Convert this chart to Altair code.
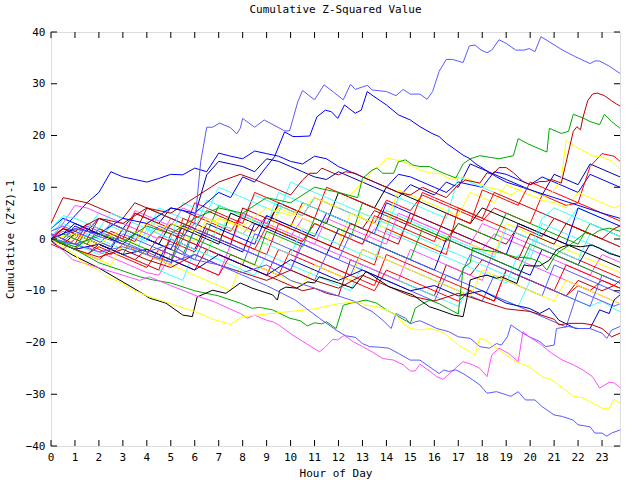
import altair as alt
import pandas as pd

# ---------------- axis / tick data ----------------
X_TICKS = list(range(24))
X_LABELS = [str(h) for h in X_TICKS]
Y_TICKS = [-40, -30, -20, -10, 0, 10, 20, 30, 40]
HOURS_HALF = [i * 0.5 for i in range(48)] + [23.75]

COLORS = {
    "lightblue": "#5a5aff", "blue": "#0000ff", "navy": "#0000b4",
    "red": "#ff0000", "darkred": "#b40000", "green": "#00a800",
    "yellow": "#ffff00", "cyan": "#40ffff", "magenta": "#ff50ff",
    "black": "#000000",
}

# ---------------- traced (detailed) series ----------------
LB_TOP_H = [0, 0.5, 1, 1.5, 2, 2.5, 3, 3.5, 4, 4.5, 5, 5.5, 6.0, 6.25, 6.5, 6.75, 7.04, 7.5, 7.75, 7.9,
            8.0, 8.5, 8.9, 9.75, 9.96, 10.3, 10.5, 11.0, 11.4, 12.2, 12.5, 12.7, 13.2, 13.4, 14.0, 14.4, 14.7,
            15.0, 15.4, 15.7, 15.93, 16.2, 16.5, 16.76, 17.2, 17.46, 17.7, 17.95, 18.2, 18.4, 18.7, 19.0, 19.4,
            19.75, 19.96, 20.2, 20.45, 20.8, 21.35, 21.9, 22.5, 22.7, 22.9, 23.3, 23.75]
LB_TOP_V = [1, 0, 2, 1.5, 0.5, 3, 2, 1, 0, 2.5, 1.5, 0.5, 3, 15, 21.6, 21.6, 22.4, 21.5, 20.3, 21.4,
            23.3, 21.6, 23.0, 20.9, 20.9, 26.5, 28.7, 26.9, 29.8, 26.9, 29.9, 28.9, 29.7, 28.8, 28.5, 27.7, 28.9,
            28.0, 28.0, 27.0, 28.5, 32.4, 34.7, 34.7, 34.1, 37.3, 37.5, 36.5, 36.0, 36.5, 38.5, 37.8, 36.5,
            36.5, 36.8, 36.2, 39.1, 38.1, 36.5, 35.2, 33.9, 34.4, 34.4, 33.4, 32.0]

DB_PEAK_H = [0, 1, 2, 3, 4, 5, 6, 7, 7.5, 8, 8.5, 9, 9.33, 9.75, 10.1, 10.3, 10.8, 11.1, 11.45, 11.7, 11.97,
             12.25, 12.7, 12.95, 13.2, 13.4, 14.0, 14.5, 15.0, 15.4, 15.9, 16.2, 16.5, 16.9, 17.2, 17.46, 17.7,
             18.15, 18.6, 19, 20, 21, 22, 23, 23.75]
DB_PEAK_V = [0, 2, 1, 4, 3, 6, 5, 9, 8, 12, 11, 14, 15.9, 20.7, 19.8, 19.8, 19.9, 23.6, 24.9, 24.6, 23.3,
             25.9, 24.3, 24.9, 28.5, 27.8, 25.9, 24.0, 23.0, 21.7, 20.4, 19.8, 18.5, 17.2, 16.2, 15.6, 14.6,
             13.3, 12.0, 11, 9.5, 8, 6.5, 5, 4]

DR_PEAK_H = [0, 0.5, 1, 2, 3, 4, 5, 6, 7, 7.9, 8.5, 9, 9.5, 10, 10.5, 10.8, 11.1, 11.3, 11.5, 11.8,
             12.0, 12.3, 12.7, 13.0, 13.5, 14, 14.5, 15, 15.5, 16, 16.5, 17, 17.3, 17.9, 18.2, 18.45, 18.7,
             19.0, 19.3, 19.7, 20.0, 20.4, 20.65, 20.9, 21.3, 21.5, 21.8, 21.95, 22.1, 22.2, 22.4, 22.6, 22.8,
             23.1, 23.4, 23.6, 23.75]
DR_PEAK_V = [0, 2, 1.5, 4, 3, 6, 5, 8, 11, 12.5, 11.5, 10.5, 9.5, 8.5, 11.4, 12.7, 12.7, 13.7, 13.3, 12.7,
             12.4, 13.0, 12.7, 12.0, 11, 10, 9, 8.5, 10, 9, 8, 10.5, 11.4, 10.8, 12.8, 12.5, 13.8,
             13.8, 12.8, 11.1, 10.5, 11.1, 11.1, 11.5, 10.8, 14.8, 20.8, 21.7, 21.1, 23.4, 26.7, 28.0, 28.2,
             27.7, 26.7, 26.1, 25.7]

GREEN_TOP_H = [0, 1, 2, 3, 4, 5, 6, 7, 8, 9, 10, 11, 12, 12.8, 13.0, 13.4, 13.6, 13.85, 14.3, 14.5, 14.8,
               15.1, 15.4, 15.8, 16.1, 16.5, 16.9, 17.2, 17.5, 17.9, 18.3, 18.7, 19.3, 19.5, 19.9, 20.4, 20.7,
               20.8, 21.3, 21.6, 21.8, 22.2, 22.5, 22.9, 23.1, 23.4, 23.75]
GREEN_TOP_V = [0, -1.5, 1, -0.5, 2.5, 1, 4, 6, 5, 8, 7, 10, 9, 8, 11.7, 13.3, 13.7, 12.7, 12.7, 14.9, 15.3,
               14.3, 14.0, 14.0, 13.3, 12.5, 11.8, 14.5, 15.5, 16.1, 15.8, 15.5, 16.1, 19.4, 18.4, 17.4, 16.8,
               21.4, 20.4, 20.8, 24.1, 23.4, 22.7, 22.1, 24.1, 22.7, 21.4]

YELLOW_TOP_H = [0, 1, 2, 3, 4, 5, 6, 7, 8, 9, 10, 11, 12, 12.8, 13.2, 13.4, 13.7, 14.0, 14.4, 14.7,
                15.0, 15.4, 15.9, 16.2, 16.7, 17.2, 17.7, 18.2, 18.7, 19.2, 19.7, 20.2, 20.7, 21.0, 21.3, 21.5,
                21.9, 22.2, 22.6, 23.0, 23.4, 23.75]
YELLOW_TOP_V = [0, 1, -1, 2, 0.5, 3, 1.5, 4, 2.5, 6, 4.5, 8, 6, 10, 11.7, 13.3, 14, 15.6, 15.3, 14.9,
                14.3, 13.3, 12.7, 12.7, 11.5, 12, 11, 10, 9.5, 8.5, 10, 9, 8, 9.5, 11.4, 19.1,
                17.8, 17.1, 16.1, 15.8, 15.1, 13.5]

LB_BOTTOM_H = [0, 1, 2, 3, 4, 5, 6, 7, 8, 9, 10.2, 10.65, 11.2, 11.9, 12.3, 12.7, 13.0, 13.3, 13.7, 14.1,
               14.5, 15.0, 15.4, 15.8, 16.2, 16.4, 16.6, 16.9, 17.2, 17.6, 17.9, 18.2, 18.6, 19.0, 19.2, 19.5,
               19.8, 20.2, 20.5, 21.0, 21.35, 21.8, 22.0, 22.5, 22.7, 23.0, 23.2, 23.4, 23.75]
LB_BOTTOM_V = [0, -1, 0.5, -1, -2.5, -1, -4, -5, -7, -9, -11.8, -13.4, -15.3, -17.6, -18.7, -19.0, -20.2,
               -20.8, -20.9, -21.1, -22.1, -23.4, -23.4, -24.7, -26, -25.3, -25.6, -25.3, -26.0, -27.2, -28.2,
               -29.8, -29.5, -30.1, -30.4, -29.5, -31.1, -31.1, -32.4, -34.0, -34.3, -35.0, -35.9, -36.3,
               -37.5, -37.5, -38.1, -37.5, -36.9]

YELLOW_BOTTOM_H = [0, 0.5, 1, 1.3, 2, 2.3, 3, 3.2, 4, 5, 6, 6.75, 7.5, 8, 9, 10, 11, 12, 12.8, 13.15,
                   13.6, 14.0, 14.4, 14.7, 15.0, 15.4, 15.8, 16.1, 16.4, 16.6, 17.0, 17.5, 17.7, 17.9, 18.15,
                   18.4, 19.0, 19.4, 19.96, 20.5, 20.9, 21.35, 21.8, 22.2, 22.5, 23.0, 23.3, 23.5, 23.75]
YELLOW_BOTTOM_V = [0, -1.5, -3, -4.6, -6, -7.3, -8.5, -9.3, -11, -12.5, -14, -15.5, -16.5, -15, -14.5, -14,
                   -13.5, -12.5, -12.1, -12.8, -13.1, -13.7, -14.7, -16.3, -17.3, -17.6, -17.3, -17.6, -18.2,
                   -18.9, -20.5, -21.8, -22.4, -19.2, -19.5, -20.5, -22.4, -23.7, -24.7, -26.6, -27.2, -28.8,
                   -30.4, -30.7, -31.4, -32.7, -32.7, -31.0, -31.7]

MAGENTA_BOTTOM_H = [0, 0.9, 2.3, 3.7, 4.1, 5, 6.2, 6.75, 7.9, 8.2, 8.5, 8.8, 9.0, 9.26, 9.5, 10.1, 10.65,
                    11.2, 11.4, 11.76, 11.97, 12.25, 12.6, 13.0, 13.4, 13.85, 14.3, 14.7, 15.0, 15.2, 15.4,
                    15.8, 16.1, 16.35, 16.5, 16.8, 17.2, 17.6, 17.9, 18.2, 18.4, 18.7, 19.1, 19.5, 19.7,
                    19.96, 20.4, 20.9, 21.35, 21.8, 22.2, 22.6, 22.9, 23.3, 23.5, 23.75]
MAGENTA_BOTTOM_V = [0, -4, -6, -8, -7.3, -9, -11.2, -12, -14.4, -15.3, -14.7, -15.3, -15.7, -16, -16.6,
                    -18.6, -20.2, -21.8, -21.1, -19.4, -19.5, -18.6, -19.8, -20.8, -21.8, -23.1, -23.4, -24.3,
                    -25.5, -25.5, -24.2, -25.5, -26.6, -27.1, -26.6, -25.3, -23.7, -24.3, -25.0, -26.6, -22.4,
                    -21.1, -22.1, -23.7, -17.9, -18.9, -20.2, -22.1, -23.4, -24.3, -25.3, -26.6, -28.8, -27.7,
                    -27.8, -28.7]

LB_LOWER_H = [0, 1, 2, 3, 4, 5, 6, 7, 8, 9, 10, 11, 12, 12.7, 13.0, 13.4, 13.85, 14.2, 14.4, 14.8,
              15.0, 15.2, 15.4, 15.8, 16.1, 16.6, 17.0, 17.5, 17.9, 18.3, 18.6, 18.8, 19.05, 19.2, 19.6,
              19.96, 20.4, 20.65, 21.0, 21.1, 21.6, 22.0, 22.5, 23.0, 23.2, 23.4, 23.75]
LB_LOWER_V = [0, -1, -2.5, -1.5, -3, -4.5, -3, -5, -6.5, -5, -8, -9.5, -11, -12.1, -13.1, -14, -15.7,
              -17.3, -14.4, -15.3, -16.4, -16, -15.8, -16.6, -17.3, -17.9, -18.9, -19.2, -20.8, -21.1, -20.2,
              -20.5, -18.9, -16.6, -17.9, -18.9, -19.8, -20.8, -20.5, -17.3, -16.9, -17.3, -17.3, -18.2,
              -19.2, -17.6, -16.9]

BLACK_H = [0, 0.1, 0.9, 2.0, 3.7, 4.1, 4.8, 5.5, 5.9, 6.1, 6.75, 7.3, 7.9, 8.4, 9.25, 9.45, 9.55, 9.8,
           10.25, 10.7, 11.0, 11.2, 12.0, 12.6, 13.15, 13.4, 14.1, 15.1, 15.4, 15.8, 16.2, 16.8, 17.2, 17.35,
           17.5, 17.9, 18.2, 18.6, 18.8, 19.1, 19.45, 19.55, 19.75, 19.96, 20.4, 20.8, 21.1, 21.35, 21.6,
           22.1, 22.6, 22.9, 23.3, 23.75]
BLACK_V = [0, -0.8, -3.1, -5.6, -10.2, -11.4, -12.4, -14.7, -15, -11.2, -9.9, -10.5, -8.5, -9.5, -10.8,
           -11.8, -9.9, -9.3, -9.5, -8.3, -8.5, -7.3, -8.5, -9.5, -6.3, -7, -9.2, -10.8, -11.8, -13.1, -13.7,
           -14.7, -15.0, -11.8, -7.9, -7.3, -7.0, -7.6, -7.3, -7.9, -8.6, -7, -5, -5.2, -5.2, -4.1, -2.1,
           -1.5, -1.2, -1.5, -1.2, -1.8, -2.8, -3.4]

GREEN_LOWER_H = [0, 1, 2, 2.9, 3.7, 4.25, 5, 6, 7, 7.9, 8.4, 8.7, 9.25, 9.96, 10.4, 10.7, 11.0, 11.3, 11.5,
                 11.9, 12.2, 12.5, 13.15, 13.6, 14.0, 14.4, 15.0, 15.2, 15.4, 15.8, 16.2, 16.6, 17.0, 17.2,
                 17.5, 17.6, 18.0, 18.6, 19.1, 19.4, 20.0, 20.4, 20.7, 21.0, 21.2, 21.7, 22.3, 22.6, 22.9,
                 23.3, 23.75]
GREEN_LOWER_V = [0, -2, -4.6, -6, -7.3, -7.9, -8.5, -10, -11, -12.4, -13.4, -13.2, -13.7, -15.3, -15.8,
                 -16.8, -16.2, -16.4, -16, -17.3, -12.8, -12.4, -11.8, -12.4, -13.7, -14.7, -16.3, -13.4,
                 -12.8, -11.8, -12.5, -13.5, -14.5, -5.6, -4.6, -1.7, -2.1, -2.5, -3.1, -3.5, -3.7, -4.4, -6,
                 -3.5, -2.5, -1, 1.2, 0.8, 1.7, 2.1, 1.5]

DB_LOWER_H = [0, 1, 2, 3, 4, 5, 6, 7, 8, 9, 10, 11, 12, 13, 14, 15, 16, 17, 18, 19.0, 19.96, 20.4, 20.8,
              21.2, 21.9, 22.5, 22.9, 23.3, 23.5, 23.75]
DB_LOWER_V = [0, -2, -1, -3, -2, -4, -6, -3, -5, -7, -4, -6, -8, -6, -8, -10, -9, -11, -10, -12.4, -13.4,
              -14.4, -13.4, -15.7, -17.3, -17.3, -13.7, -14.4, -11.8, -10.8]

DR_LOWER_H = [0, 1, 2, 3, 4, 5, 6, 7, 8, 9, 10, 11, 12, 13, 14, 15, 16, 17, 18, 19, 20, 21, 21.2, 21.6,
              22.2, 22.6, 23.0, 23.4, 23.75]
DR_LOWER_V = [0, -2, -3.5, -2, -4, -5.5, -3, -5, -6.5, -8, -6, -8, -9.5, -7, -9, -11, -12, -10.5, -12,
              -13.5, -14, -15.5, -16.6, -16.3, -16.3, -16.6, -17.3, -18.9, -18.2]

# ---------------- bundle series (half-hour readings, last at 23.75) ----------------
B01 = [0, 2, 4.5, 7, 9, 13, 12, 11.5, 11, 11.7, 12.5, 12.4, 13.7, 13, 16.6, 16,
       15.5, 17, 16.5, 16, 15, 14.5, 16, 15.5, 14, 13, 12, 11, 10, 12.5, 12, 11,
       10, 9, 11, 10.5, 10, 13, 12.5, 11.5, 10.5, 12, 11, 10, 9, 12.5, 11.5, 10.5, 10]
B02 = [1, 0, 2.5, 1.5, 4, 3, 2, 5, 4, 3, 6, 5.5, 4.5, 12.4, 15, 14.5,
       14, 13, 15.5, 15, 14, 13, 12, 11.5, 13, 12, 11, 10, 9, 8, 10.5, 9.5,
       8.5, 11, 10, 14.5, 13.5, 12.5, 11.5, 10.5, 9.5, 8.5, 12.5, 11.5, 10.5, 14.5, 13.5, 12.5, 12]
B03 = [0.5, 2, 1, 0, -1, 1.5, 0.5, -0.5, 3, 2, 1, 0, 4.5, 3.5, 2.5, 1.5,
       5, 4, 3, 6.5, 5.5, 4.5, 8, 7, 6, 5, 4, 3, 7.5, 6.5, 5.5, 8.5,
       7.5, 6.5, 5.5, 4.5, 3.5, 6, 5, 4, 3, 8.5, 7.5, 6.5, 7, 14, 16.5, 16, 15]
B04 = [3, 8, 7.5, 7, 6, 5, 4, 7, 6, 5, 4, 3, 2, 5.5, 4.5, 3.5,
       2.5, 1.5, 4.5, 3.5, 2.5, 7, 6, 5, 4, 3, 2, 5.5, 4.5, 3.5, 2.5, 1.5,
       0.5, -0.5, 3, 2, 1, 0, -1, 2.5, 1.5, 0.5, 4, 3, 2, 1, 0, -1, -1.5]
B05 = [0, 4, 3, 2, 5, 4, 3, 2, 1, 6, 5, 4, 3, 2, 1, 5,
       4, 8.5, 7.5, 6.5, 5.5, 4.5, 8, 7, 6, 5, 4, 3, 2, 8, 7, 6,
       5, 4, 12, 11, 10, 9, 8, 7, 6, 5, 4, 3, 6, 5, 4, 3, 2.5]
B06 = [0, 1.5, 0.5, 3, 2, 1, 0, 5.5, 4.5, 3.5, 2.5, 6, 5, 4, 3, 2,
       1, 3.5, 2.5, 1.5, 0.5, 4, 3, 2, 1, 0, -1, 2, 1, 0, 4, 3,
       2, 1, 0, -1, -2, 1, 0, -1, -2, -3, -4, -5, -6, -7, -3, -4, -4.5]
B07 = [0, -1, -2, 0, -1, -2, -3, 1, 0, -1, -2, -3, 2, 1, 6.5, 5.5,
       4.5, 3.5, 2.5, 1.5, 0.5, -0.5, 3, 2, 1, 0, 7, 6, 5, 4, 3, 2,
       1, 0, 3, 2, 1, 0, 5, 4, 3, 2, 1, 0, -1, 3, 2, 1, 0.5]
B08 = [0, -1, 0.5, -0.5, -1.5, 1, 0, -1, -2, -3, 0, -1, -2, -3, 4, 3,
       2, 1, 0, -1, 3, 2, 1, 0, -1, 5, 4, 3, 2, 1, 0, -1,
       -2, 1, 0, -1, -2, -3, 3, 2, 1, 0, -1, -2, -3, -4, -5, -6, -6.5]
B09 = [2, 4, 3, 2, 1, 0, -1, -2, -3, -4, 0, -1, -2, 3, 2, 1,
       0, -1, 4.5, 3.5, 2.5, 1.5, 0.5, 5, 4, 3, 2, 1, 7, 6, 5, 4,
       3, 2, 1, 0, -1, -2, -3, 3, 2, 1, 0, -1, 6, 5, 4, 3, 2.5]
B10 = [-1, -2, 0, -1, -2, -3, -1, -2, -3, -4, -5, 4, 3, 2, 1, 0,
       -1, -2, -3, 3, 2, 1, 0, -1, -2, -3, -4, -5, 2, 1, 0, -1,
       -2, -3, 6, 5, 4, 3, 2, 1, 0, -1, -2, -3, -4, -5, -6, -7, -7.5]
B11 = [0, -1, -2, -3, -1, -2, -3, -4, -2, -3, -4, -5, -6, -2, -3, -4,
       -5, -6, -7, -8, -9, -10, -9.5, -10.5, -11, -4, -5, -6, -7, -8, -9, -10,
       -11, -5, -6, -7, -4, -5, -6, -7, -8, -9, -10, -11, -8, -9, -10, -9, -9.5]
B12 = [1, 0, -1, -2, -3, -2, -3, -4, -5, -6, -7, -8, -2, -3, -4, -5,
       -6, -7, -3, -4, -5, -6, -7, -8, -9, -10, -5, -6, -7, -8, -9, -10,
       -11, -12, -13, -9, -10, -11, -12, -13, -8, -9, -10, -11, -12, -13, -12, -13.5, -14]
B13 = [0, -1, -2, -1.5, -2.5, -3.5, -4.5, -5.5, -6.5, -7, -3, -4, -5, -6, -7, -1,
       -2, -3, -4, -5, -6, 0, -1, -2, -3, -4, -5, -6, -7, -8, -2, -3,
       -4, -5, -6, -7, -8, -2, -3, -4, -5, -6, -7, -8, -9, -10, -11, -12, -12.5]
B14 = [0, 1, 0, 2.5, 1.5, 0.5, -0.5, -1.5, -2.5, -3.5, -4.5, 0, -1, -2, -3, -4,
       -5, 1, 0, -1, -2, -3, -4, -5, -6, -7, -2, -3, -4, -5, -6, -7,
       -8, -9, -10, -11, -12, -7, -8, -9, -10, -11, -5, -6, -7, -8, -9, -10, -10.5]
B15 = [0, -1, 1, 0, -1, -2, 2, 1, 0, -1, 3, 2, 1, 0, -1, 5,
       4, 3, 2, 7, 6, 5, 4, 3, 9, 8, 7, 6, 10, 9, 8, 7,
       6, 5, 4, 3, 6, 5, 4, 3, 2, 1, 0, -1, -2, -3, -4, -5, -5.5]
B16 = [0, 1, 0, -1, 2, 1, 0, -1, 3.5, 2.5, 1.5, 0.5, -0.5, 4, 3, 2,
       1, 0, -1, 6, 5, 4, 3, 2, 1, 0, 5, 4, 3, 9.5, 8.5, 7.5,
       6.5, 5.5, 4.5, 9, 8, 7, 10.5, 9.5, 8.5, 7.5, 7, 6, 9, 8, 7, 6, 6.5]
B17 = [0, -1, -2, -3, -4, -2, -3, -4, -5, -6, 1, 0, -1, -2, -3, -4,
       -5, -6, -7, -2, -3, -4, -5, -6, -7, -8, -9, -10, -6, -7, -8, -9,
       -10, -11, -12, -10, -11, -12, -6, -7, -8, -9, -10, -11, -9, -10, -8, -9, -8]
B18 = [0.5, -0.5, 1.5, 0.5, -0.5, -1.5, 2, 1, 0, -1, -2, -3, -4, 1, 0, -1,
       -2, -3, -4, -5, -6, -7, -8, -3, -4, -5, -6, -7, -8, -9, -10, -11,
       -12, -7, -8, -9, -10, -11, -12, -13, -14, -15, -16, -17, -10, -11, -12, -13, -12.5]
B19 = [1.5, 3, 2, 1, 0, 2.5, 1.5, 0.5, -0.5, 5, 4, 3, 2, 7.5, 6.5, 5.5,
       4.5, 3.5, 2.5, 9, 8, 7, 6, 5, 4, 3, 2, 1, 5.5, 4.5, 3.5, 2.5,
       1.5, 0.5, -0.5, -1.5, -2.5, -3.5, 2, 1, 0, -1, -2, -3, -4, 1, 0, -1, -1.5]
B20 = [0, -1, -2, 2, 1, 0, -1, -2, -3, 0.5, -0.5, -1.5, -2.5, 2, 1, 0,
       -1, -2, 2.5, 1.5, 0.5, -0.5, 3, 2, 1, 0, -1, 4.5, 3.5, 2.5, 1.5, 0.5,
       -0.5, 5, 4, 3, 9.5, 8.5, 7.5, 6.5, 11, 10, 9, 8, 7, 6, 5, 4, 3.5]
B21 = [0, 1, 3, 2, 1, 0, -1, 1, 0, -1, -2, 2.5, 1.5, 0.5, -0.5, -1.5,
       -2.5, 3, 2, 1, 0, -1, -2, -3, 2, 1, 0, -1, -2, -3, -4, -5,
       -6, 0, -1, -2, -3, -4, -5, -6, -7, -2, -3, -4, -5, -1, -2, -3, -3.5]
B22 = [0, -1, -2, -3, -1.5, -2.5, -3.5, -4.5, -5.5, -2, -3, -4, -5, -6, -7, -3,
       -4, -5, -6, -7, -2, -3, -4, -5, -6, -7, -8, -9, -3, -4, -5, -6,
       -7, -8, -9, -10, -11, -12, -6, -7, -8, -9, -10, -5, -6, -7, -8, -9, -9.5]
B23 = [0.5, -0.5, -1.5, 1, 0, -1, -2, -3, 2, 1, 0, -1, -2, -3, 3, 2,
       1, 0, -1, -2, -3, 2, 1, 0, -1, -2, -3, -4, 1.5, 0.5, -0.5, -1.5,
       -2.5, -3.5, -4.5, -5.5, -6.5, -7.5, -8.5, -3, -4, 3, 2, 1, 0, -1, -2, -3, -3.5]
B24 = [0, 3, 6.5, 6, 5, 4, 3, 2, 1, 0, 4, 3, 2, 1, 0, -1,
       5, 4, 3, 2, 1, 0, -1, 4, 3, 2, 1, 0, -1, 5, 4, 3,
       2, 1, 0, -1, 3, 2, 1, 0, -1, -2, -3, -4, -5, -6, -7, -8, -8.5]
B25 = [0, -1, -2, -3, -4, -5, -1, -2, -3, -4, -5, -6, -7, -8, -9, -10,
       -4, -5, -6, -7, -8, -9, -5, -6, -7, -8, -2, -3, -4, -5, -6, -7,
       -8, -9, -10, -11, -6, -7, -8, -9, -10, -11, -12, -8, -9, -10, -11, -12, -12.5]
B26 = [-0.5, 1, 0, -1, 2, 1, 0, -1, -2, -3, -4, 1, 0, -1, -2, -3,
       -4, -5, 1.5, 0.5, -0.5, -1.5, 4, 3, 2, 1, 0, -1, -2, -3, -4, 2,
       1, 0, -1, -2, -3, -4, -5, -6, -1, -2, -3, -4, -5, -6, -7, -8, -8.5]
B27 = [1, 0, -1, 3, 2, 1, 0, 5, 4, 3, 2, 1, 7, 6, 5, 4,
       3, 9, 8, 7, 6, 5, 4, 10, 9, 8, 7, 6, 5, 4, 3, 9,
       8, 7, 6, 5, 4, 9, 8, 7, 6, 5, 4, 3, 2, 1, 0, -1, -1.5]
B28 = [0, 2, 1, 0, 4, 3, 2, 1, 6, 5, 4, 3, 2, 1, 0, -1,
       6, 5, 4, 3, 2, 1, 0, -1, -2, 3, 2, 1, 0, -1, 5, 4,
       3, 2, 1, 0, -1, -2, -3, -4, 1, 0, -1, 3, 2, 1, 0, 2, 2.5]
B29 = [1.5, 2.5, 1.5, 0.5, -0.5, -1.5, 1, 0, -1, -2, -3, -4, 2, 1, 0, -1,
       -2, -3, -4, -5, -6, -1, -2, -3, -4, 1, 0, -1, -2, -3, -4, -5,
       -6, -7, -8, -3, -4, -5, -6, -7, -8, -9, -10, -11, -12, -13, -7, -8, -8.5]
B30 = [2, 4.5, 4, 3, 2, 5, 4, 3, 2, 1, 0, 7, 6, 5, 10, 9,
       8, 7, 6, 5, 11, 10, 9, 8, 7, 6, 5, 4, 3, 2, 1, 0,
       -1, -2, -3, -4, -5, -6, -7, -8, -2, 4, 6, 5, 4, 3, 2, 1, 0.5]

BUNDLE = [
    ("b01", "blue", B01), ("b02", "navy", B02), ("b03", "red", B03), ("b04", "darkred", B04),
    ("b05", "cyan", B05), ("b06", "magenta", B06), ("b07", "green", B07), ("b08", "yellow", B08),
    ("b09", "blue", B09), ("b10", "red", B10), ("b11", "darkred", B11), ("b12", "cyan", B12),
    ("b13", "magenta", B13), ("b14", "lightblue", B14), ("b15", "black", B15), ("b16", "yellow", B16),
    ("b17", "red", B17), ("b18", "lightblue", B18), ("b19", "cyan", B19), ("b20", "red", B20),
    ("b21", "navy", B21), ("b22", "red", B22), ("b23", "cyan", B23), ("b24", "magenta", B24),
    ("b25", "yellow", B25), ("b26", "green", B26), ("b27", "red", B27), ("b28", "darkred", B28),
    ("b29", "lightblue", B29), ("b30", "cyan", B30),
]

DETAIL = [
    ("d_db_lower", "navy", DB_LOWER_H, DB_LOWER_V),
    ("d_dr_lower", "darkred", DR_LOWER_H, DR_LOWER_V),
    ("d_green_lower", "green", GREEN_LOWER_H, GREEN_LOWER_V),
    ("d_black", "black", BLACK_H, BLACK_V),
    ("d_lb_lower", "lightblue", LB_LOWER_H, LB_LOWER_V),
    ("d_magenta_bottom", "magenta", MAGENTA_BOTTOM_H, MAGENTA_BOTTOM_V),
    ("d_yellow_bottom", "yellow", YELLOW_BOTTOM_H, YELLOW_BOTTOM_V),
    ("d_lb_bottom", "lightblue", LB_BOTTOM_H, LB_BOTTOM_V),
    ("d_yellow_top", "yellow", YELLOW_TOP_H, YELLOW_TOP_V),
    ("d_green_top", "green", GREEN_TOP_H, GREEN_TOP_V),
    ("d_dr_peak", "darkred", DR_PEAK_H, DR_PEAK_V),
    ("d_db_peak", "blue", DB_PEAK_H, DB_PEAK_V),
    ("d_lb_top", "lightblue", LB_TOP_H, LB_TOP_V),
]

rows = []
for name, col, vals in BUNDLE:
    for h, v in zip(HOURS_HALF, vals):
        rows.append({"series": name, "hour": h, "value": v, "color": COLORS[col]})
for name, col, hs, vs in DETAIL:
    for h, v in zip(hs, vs):
        rows.append({"series": name, "hour": h, "value": v, "color": COLORS[col]})
df = pd.DataFrame(rows)

W, H = 569, 414
FONT = "DejaVu Sans Mono"

xscale = alt.Scale(domain=[0, 23.75], nice=False, zero=False)
yscale = alt.Scale(domain=[-40, 40], nice=False, zero=False)

lines = alt.Chart(df).mark_line(strokeWidth=1, clip=True).encode(
    x=alt.X("hour:Q", scale=xscale,
            axis=alt.Axis(values=X_TICKS, title="Hour of Day", ticks=False, domain=False, grid=False,
                          labels=False, titlePadding=21,
                          titleFont=FONT, titleFontSize=11, titleFontWeight="normal", titleColor="black")),
    y=alt.Y("value:Q", scale=yscale,
            axis=alt.Axis(values=Y_TICKS, title="Cumulative (Z*Z)-1", ticks=False, domain=False,
                          grid=False, labelPadding=6, titlePadding=10, format="d", labelOverlap=False,
                          labelFont=FONT, labelFontSize=11, labelColor="black",
                          titleFont=FONT, titleFontSize=11, titleFontWeight="normal", titleColor="black")),
    detail="series:N",
    color=alt.Color("color:N", scale=None),
)

xt = pd.DataFrame({"h": X_TICKS, "lab": X_LABELS})
yt = pd.DataFrame({"v": Y_TICKS})
x_labels = alt.Chart(xt).mark_text(font=FONT, fontSize=11, color="black", baseline="top",
                                   align="center").encode(
    x=alt.X("h:Q", scale=xscale), y=alt.value(H + 6), text="lab:N")
tick_b = alt.Chart(xt).mark_rule(color="black", strokeWidth=1).encode(
    x=alt.X("h:Q", scale=xscale), y=alt.value(H), y2=alt.value(H - 6))
tick_t = alt.Chart(xt).mark_rule(color="black", strokeWidth=1).encode(
    x=alt.X("h:Q", scale=xscale), y=alt.value(0), y2=alt.value(6))
tick_l = alt.Chart(yt).mark_rule(color="black", strokeWidth=1).encode(
    y=alt.Y("v:Q", scale=yscale), x=alt.value(0), x2=alt.value(6))
tick_r = alt.Chart(yt).mark_rule(color="black", strokeWidth=1).encode(
    y=alt.Y("v:Q", scale=yscale), x=alt.value(W), x2=alt.value(W - 6))

chart = alt.layer(lines, x_labels, tick_b, tick_t, tick_l, tick_r).properties(
    width=W, height=H,
    title=alt.TitleParams("Cumulative Z-Squared Value", font=FONT, fontSize=11, fontWeight="normal",
                          color="black", offset=11, anchor="middle"),
    autosize=alt.AutoSizeParams(type="none"),
    padding={"left": 51, "top": 32, "right": 20, "bottom": 34},
).configure_view(
    stroke="black", strokeWidth=1
).configure(background="white")

chart.save("out.html", embed_options={"renderer": "svg", "actions": False})
